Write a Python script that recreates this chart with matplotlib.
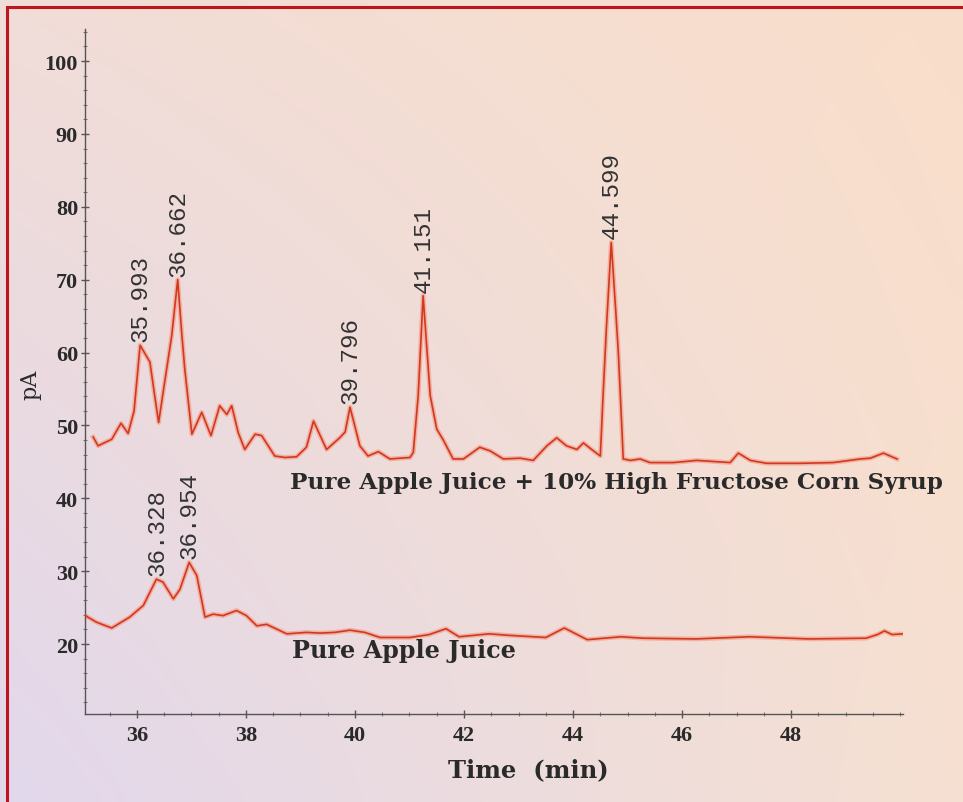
import numpy as np
import matplotlib
matplotlib.use("Agg")
import matplotlib.pyplot as plt
from matplotlib.patches import Rectangle
from matplotlib.ticker import MultipleLocator

# ---------------- data ----------------
hfcs_time = [35.20, 35.29, 35.54, 35.71, 35.84, 35.95, 36.06, 36.24, 36.32, 36.40,
             36.51, 36.64, 36.75, 36.82, 36.88, 37.01, 37.19, 37.36, 37.52, 37.65,
             37.74, 37.86, 37.98, 38.17, 38.29, 38.53, 38.72, 38.93, 39.11, 39.24,
             39.48, 39.72, 39.82, 39.91, 40.09, 40.24, 40.43, 40.64, 41.01, 41.07,
             41.16, 41.25, 41.38, 41.50, 41.62, 41.80, 41.99, 42.29, 42.48, 42.72,
             43.03, 43.27, 43.52, 43.70, 43.88, 44.07, 44.19, 44.34, 44.50, 44.55,
             44.61, 44.70, 44.78, 44.83, 44.88, 44.92, 45.05, 45.23, 45.41, 45.84,
             46.27, 46.88, 47.03, 47.25, 47.55, 48.17, 48.77, 49.27, 49.45, 49.69,
             49.94]
hfcs_pA = [48.4, 47.2, 48.1, 50.3, 48.9, 52.0, 61.0, 58.7, 54.5, 50.4,
           55.9, 62.3, 70.0, 63.0, 57.7, 48.8, 51.8, 48.6, 52.7, 51.5,
           52.7, 49.0, 46.7, 48.8, 48.6, 45.8, 45.6, 45.7, 47.0, 50.6,
           46.7, 48.3, 49.1, 52.5, 47.2, 45.8, 46.4, 45.4, 45.6, 46.3,
           54.1, 67.8, 54.1, 49.5, 48.0, 45.4, 45.4, 47.0, 46.5, 45.4,
           45.5, 45.2, 47.2, 48.3, 47.2, 46.7, 47.6, 46.7, 45.8, 54.1,
           63.2, 75.1, 66.0, 60.0, 52.0, 45.4, 45.2, 45.4, 44.9, 44.9,
           45.2, 44.9, 46.2, 45.2, 44.8, 44.8, 44.9, 45.4, 45.5, 46.2,
           45.4]

pure_time = [35.01, 35.26, 35.54, 35.87, 36.12, 36.36, 36.48, 36.67, 36.79, 36.96,
             37.10, 37.25, 37.40, 37.58, 37.83, 38.01, 38.20, 38.38, 38.75, 39.11,
             39.36, 39.63, 39.91, 40.18, 40.46, 41.01, 41.36, 41.67, 41.91, 42.46,
             42.81, 43.50, 43.84, 44.26, 44.88, 45.29, 46.26, 47.23, 48.33, 49.37,
             49.58, 49.71, 49.85, 50.05]
pure_pA = [24.1, 23.0, 22.2, 23.7, 25.3, 28.9, 28.5, 26.2, 27.5, 31.2,
           29.4, 23.7, 24.1, 23.9, 24.6, 23.9, 22.5, 22.7, 21.4, 21.6,
           21.5, 21.6, 21.9, 21.6, 20.9, 20.9, 21.3, 22.1, 21.0, 21.4,
           21.2, 20.9, 22.2, 20.6, 21.0, 20.8, 20.7, 21.0, 20.7, 20.8,
           21.3, 21.8, 21.3, 21.4]

hfcs_peak_labels = ["35.993", "36.662", "39.796", "41.151", "44.599"]
hfcs_peak_time = [36.06, 36.75, 39.91, 41.25, 44.70]
hfcs_peak_pA = [61.0, 70.0, 52.5, 67.8, 75.1]

pure_peak_labels = ["36.328", "36.954"]
pure_peak_time = [36.36, 36.96]
pure_peak_pA = [28.9, 31.2]

trace_names = ["Pure Apple Juice + 10% High Fructose Corn Syrup", "Pure Apple Juice"]

x_ticks = [36, 38, 40, 42, 44, 46, 48]
y_ticks = [20, 30, 40, 50, 60, 70, 80, 90, 100]

# ---------------- figure ----------------
W, H = 963, 803
fig = plt.figure(figsize=(W / 100, H / 100), dpi=100)

# background gradient
bg = fig.add_axes([0, 0, 1, 1], zorder=0)
bg.set_axis_off()
ny, nx = 60, 60
yy, xx = np.mgrid[0:1:ny * 1j, 0:1:nx * 1j]   # yy: 0 top -> 1 bottom
tl = np.array([241, 221, 216]) / 255
tr = np.array([249, 222, 202]) / 255
bl = np.array([226, 216, 236]) / 255
br = np.array([246, 224, 210]) / 255
img = ((1 - xx)[..., None] * (1 - yy)[..., None] * tl + xx[..., None] * (1 - yy)[..., None] * tr
       + (1 - xx)[..., None] * yy[..., None] * bl + xx[..., None] * yy[..., None] * br)
bg.imshow(img, aspect="auto", extent=[0, 1, 0, 1], interpolation="bicubic")
bg.set_xlim(0, 1)
bg.set_ylim(0, 1)

# red frame (left and top edges visible)
fig.patches.append(Rectangle((7 / W, -0.05), 1.1, 1 - 8 / H + 0.05,
                             transform=fig.transFigure, fill=False,
                             edgecolor="#c0141c", linewidth=2.2, zorder=10))

ax = fig.add_axes([85 / W, 1 - 715 / H, (903 - 85) / W, (715 - 30) / H], zorder=1)
ax.patch.set_alpha(0)
ax.set_xlim(35.05, 50.05)
ax.set_ylim(10.4, 104.4)

line_core = "#d2381f"
line_glow = "#f3a08c"
for t, v in [(hfcs_time, hfcs_pA), (pure_time, pure_pA)]:
    ax.plot(t, v, color=line_glow, lw=3.4, alpha=0.7, solid_joinstyle="round", zorder=2)
    ax.plot(t, v, color=line_core, lw=1.2, solid_joinstyle="round", zorder=3)

label_font = dict(family="Liberation Mono", fontsize=17.5, color="#333333")
for lab, t, v in list(zip(hfcs_peak_labels, hfcs_peak_time, hfcs_peak_pA)) + \
        list(zip(pure_peak_labels, pure_peak_time, pure_peak_pA)):
    ax.annotate(lab, (t, v), xytext=(0, 3), textcoords="offset points",
                rotation=90, ha="center", va="bottom", **label_font)

name_font = dict(family="DejaVu Serif", fontweight="bold", fontsize=16.7, color="#2a2a2a")
ax.text(38.81, 42.2, trace_names[0], ha="left", va="center", clip_on=False, **name_font)
ax.text(38.84, 19.2, trace_names[1], ha="left", va="center", clip_on=False,
        **dict(name_font, fontsize=17.2))

# axes styling
for s in ["top", "right"]:
    ax.spines[s].set_visible(False)
for s in ["left", "bottom"]:
    ax.spines[s].set_color("#555555")
    ax.spines[s].set_linewidth(1.0)

ax.set_xticks(x_ticks)
ax.set_yticks(y_ticks)
ax.xaxis.set_minor_locator(MultipleLocator(0.5))
ax.yaxis.set_minor_locator(MultipleLocator(2))
ax.tick_params(which="major", direction="inout", length=6, width=1, color="#555555")
ax.tick_params(which="minor", direction="inout", length=3, width=0.8, color="#777777")
tick_font = dict(family="Liberation Serif", fontweight="bold", size=16)
ax.set_xticklabels([str(v) for v in x_ticks], **tick_font, color="#2a2a2a")
ax.set_yticklabels([str(v) for v in y_ticks], **tick_font, color="#2a2a2a")
ax.tick_params(axis="x", pad=5)
ax.tick_params(axis="y", pad=2)

ax.set_xlabel("Time  (min)", family="DejaVu Serif", fontweight="bold", fontsize=17.5,
              color="#2a2a2a")
ax.xaxis.set_label_coords((528 - 85) / 818, -(770 - 715) / 685)
ax.xaxis.label.set_va("center")
ax.set_ylabel("pA", family="DejaVu Serif", fontsize=16, color="#2a2a2a")
ax.yaxis.set_label_coords((30 - 85) / 818, (715 - 385) / 685)
ax.yaxis.label.set_va("center")

fig.savefig("out.png", dpi=100)
